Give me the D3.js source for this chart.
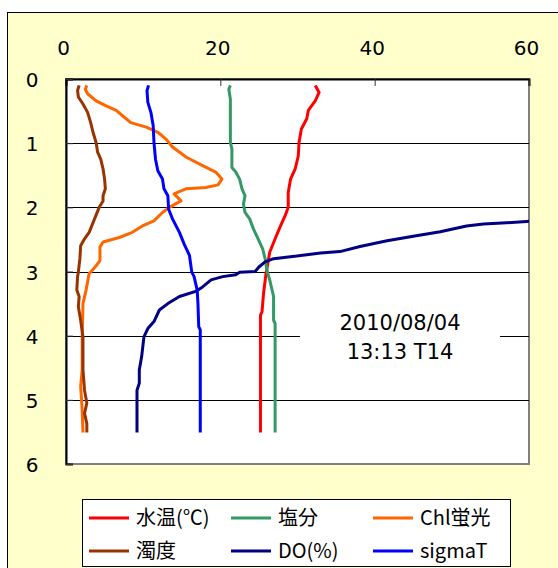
<!DOCTYPE html>
<html>
<head>
<meta charset="utf-8">
<script src="https://cdn.jsdelivr.net/npm/d3@7"></script>
<style>
  body { margin: 0; background: #fff; }
  svg { display: block; }
  text { font-family: "Noto Sans CJK JP", "Liberation Sans", sans-serif; fill: #000; }
</style>
</head>
<body>
<svg id="chart" width="558" height="568"></svg>
<script>
// [value, depth(m)] pairs
const waterTemp = [[32.3,0.10],[32.8,0.21],[32.3,0.34],[31.4,0.49],[31.2,0.62],[30.5,0.78],[30.2,0.99],[30.1,1.20],[29.7,1.40],[29.1,1.56],[28.8,1.77],[28.8,2.00],[28.4,2.13],[27.8,2.29],[27.1,2.49],[26.4,2.70],[26.1,2.91],[25.9,3.05],[25.6,3.34],[25.4,3.63],[25.2,3.68],[25.2,5.51]];
const salinity = [[21.3,0.10],[21.1,0.16],[21.3,0.31],[21.3,0.99],[21.5,1.09],[21.5,1.38],[22.0,1.45],[22.5,1.56],[22.8,1.71],[23.2,1.82],[23.0,1.95],[23.2,2.08],[23.8,2.18],[24.3,2.34],[25.0,2.52],[25.5,2.65],[25.8,2.80],[26.1,3.01],[26.4,3.13],[26.9,3.39],[26.9,3.76],[27.1,3.81],[27.1,5.51]];
const chlFluor = [[2.7,0.10],[2.5,0.16],[2.8,0.23],[3.9,0.34],[5.2,0.42],[6.5,0.49],[7.6,0.60],[8.4,0.68],[10.4,0.75],[11.9,0.83],[13.0,0.94],[13.8,1.06],[15.6,1.22],[17.7,1.35],[19.4,1.45],[20.2,1.56],[19.7,1.65],[18.1,1.69],[15.6,1.71],[14.0,1.79],[14.9,1.90],[13.4,2.00],[12.5,2.08],[11.4,2.21],[9.9,2.29],[8.6,2.39],[6.9,2.47],[4.8,2.54],[4.4,2.62],[4.4,2.83],[3.9,2.91],[3.2,3.01],[3.0,3.03],[2.6,3.29],[2.2,3.50],[2.1,4.02],[2.1,4.53],[1.9,4.79],[2.1,5.16],[2.2,5.51]];
const turbidity = [[1.7,0.10],[1.5,0.18],[1.6,0.28],[2.2,0.39],[2.8,0.52],[3.2,0.68],[3.5,0.83],[3.9,0.99],[4.1,1.14],[4.5,1.25],[4.8,1.40],[5.0,1.56],[5.1,1.71],[4.8,1.82],[4.8,1.90],[4.3,2.00],[3.7,2.18],[3.0,2.39],[2.4,2.49],[1.9,2.60],[1.8,2.80],[1.6,3.01],[1.5,3.08],[1.4,3.29],[1.7,3.39],[1.6,3.55],[1.9,3.76],[2.2,4.02],[2.2,4.53],[2.4,4.85],[2.7,5.05],[2.4,5.21],[2.7,5.37],[2.7,5.51]];
const dissolvedO2 = [[62.5,2.20],[59.7,2.22],[57.1,2.24],[54.1,2.26],[51.9,2.29],[48.5,2.38],[45.0,2.45],[41.6,2.52],[38.1,2.61],[35.5,2.69],[33.0,2.71],[29.9,2.76],[26.9,2.80],[25.8,2.85],[25.0,2.93],[24.5,3.00],[22.5,3.01],[22.0,3.05],[20.3,3.08],[18.8,3.13],[17.7,3.24],[16.8,3.31],[14.7,3.39],[13.2,3.50],[12.1,3.60],[11.4,3.78],[10.6,3.89],[10.1,4.02],[9.8,4.33],[9.5,4.53],[9.5,4.74],[9.2,4.85],[9.2,5.51]];
const sigmaT = [[10.7,0.10],[10.5,0.18],[10.6,0.36],[11.0,0.52],[11.3,0.73],[11.4,0.99],[11.6,1.25],[11.9,1.43],[12.5,1.56],[12.7,1.71],[13.2,1.82],[13.3,2.03],[13.8,2.18],[14.7,2.39],[15.3,2.57],[16.0,2.75],[16.3,3.01],[16.6,3.08],[17.0,3.29],[17.1,3.50],[17.2,3.86],[17.4,3.91],[17.4,5.51]];

const seriesNames = ['水温(℃)', '塩分', 'Chl蛍光', '濁度', 'DO(%)', 'sigmaT'];
const seriesColors = ['#FF0000', '#339966', '#FF6600', '#993300', '#000080', '#0000FF'];
const seriesData = [waterTemp, salinity, chlFluor, turbidity, dissolvedO2, sigmaT];
const xTicks = [0, 20, 40, 60];
const yTicks = [0, 1, 2, 3, 4, 5, 6];
const stamp = ['2010/08/04', '13:13 T14'];

const numFont = '"DejaVu Sans", "Liberation Sans", sans-serif';
const svg = d3.select('#chart');
const plot = { left: 66, top: 79, right: 529, bottom: 464 };

// chart area
svg.append('rect')
  .attr('x', 7.5).attr('y', 12.5)
  .attr('width', 700).attr('height', 700)
  .attr('fill', '#FFFFCC')
  .attr('stroke', '#000').attr('stroke-width', 1);

const x = d3.scaleLinear().domain([0, 60]).range([plot.left, plot.right]);
const y = d3.scaleLinear().domain([0, 6]).range([plot.top, plot.bottom]);

svg.append('rect')
  .attr('x', plot.left).attr('y', plot.top)
  .attr('width', plot.right - plot.left).attr('height', plot.bottom - plot.top)
  .attr('fill', '#fff')
  .attr('stroke', '#808080').attr('stroke-width', 2);

// gridlines
svg.append('g')
  .selectAll('line')
  .data(yTicks.filter(d => d > 0 && d < 6))
  .enter().append('line')
  .attr('x1', plot.left).attr('x2', plot.right)
  .attr('y1', d => Math.round(y(d)) + 0.5).attr('y2', d => Math.round(y(d)) + 0.5)
  .attr('stroke', '#000').attr('stroke-width', 1);

// date stamp box (covers gridline)
const box = svg.append('g');
box.append('rect')
  .attr('x', 300).attr('y', 302)
  .attr('width', 200).attr('height', 68)
  .attr('fill', '#fff');
box.selectAll('text')
  .data(stamp)
  .enter().append('text')
  .attr('x', 400)
  .attr('y', (d, i) => 330 + i * 29)
  .attr('text-anchor', 'middle')
  .attr('font-size', 21)
  .style('font-family', numFont)
  .text(d => d);

// axes
const xAxis = svg.append('g')
  .attr('transform', `translate(0,${plot.top})`)
  .call(d3.axisTop(x).tickValues(xTicks).tickSize(-7).tickPadding(0).tickFormat(d3.format('d')));
xAxis.select('.domain').attr('stroke', '#000').attr('stroke-width', 2);
xAxis.selectAll('.tick line').attr('stroke', '#333');
xAxis.selectAll('text')
  .attr('font-size', 20)
  .attr('y', -24)
  .attr('dx', -3)
  .style('font-family', numFont);

const yAxis = svg.append('g')
  .attr('transform', `translate(${plot.left},0)`)
  .call(d3.axisLeft(y).tickValues(yTicks).tickSize(-7).tickPadding(0).tickFormat(d3.format('d')));
yAxis.select('.domain').attr('stroke', '#000').attr('stroke-width', 2);
yAxis.selectAll('.tick line').attr('stroke', '#333');
yAxis.selectAll('text')
  .attr('font-size', 20)
  .attr('text-anchor', 'middle')
  .attr('x', -34)
  .attr('dy', '0.38em')
  .style('font-family', numFont);

// profiles
svg.append('clipPath').attr('id', 'plotClip')
  .append('rect')
  .attr('x', plot.left).attr('y', plot.top)
  .attr('width', plot.right - plot.left).attr('height', plot.bottom - plot.top);

const line = d3.line()
  .x(d => x(d[0]))
  .y(d => y(d[1]));

svg.append('g')
  .attr('clip-path', 'url(#plotClip)')
  .selectAll('path')
  .data(seriesData)
  .enter().append('path')
  .attr('d', line)
  .attr('fill', 'none')
  .attr('stroke', (d, i) => seriesColors[i])
  .attr('stroke-width', 3)
  .attr('stroke-linejoin', 'round')
  .attr('stroke-linecap', 'butt');

// legend
const legend = svg.append('g');
legend.append('rect')
  .attr('x', 82.5).attr('y', 499.5)
  .attr('width', 428).attr('height', 67)
  .attr('fill', '#fff')
  .attr('stroke', '#000').attr('stroke-width', 1);

const colX = [89, 231, 373];
const rowY = [518, 551];
const item = legend.selectAll('g.item')
  .data(seriesNames)
  .enter().append('g')
  .attr('class', 'item')
  .attr('transform', (d, i) => `translate(${colX[i % 3]},${rowY[Math.floor(i / 3)]})`);
item.append('line')
  .attr('x1', 0).attr('x2', 40)
  .attr('stroke', (d, i) => seriesColors[i])
  .attr('stroke-width', 3);
item.append('text')
  .attr('x', 47)
  .attr('dy', '0.36em')
  .attr('font-size', 20)
  .text(d => d);
</script>
</body>
</html>
